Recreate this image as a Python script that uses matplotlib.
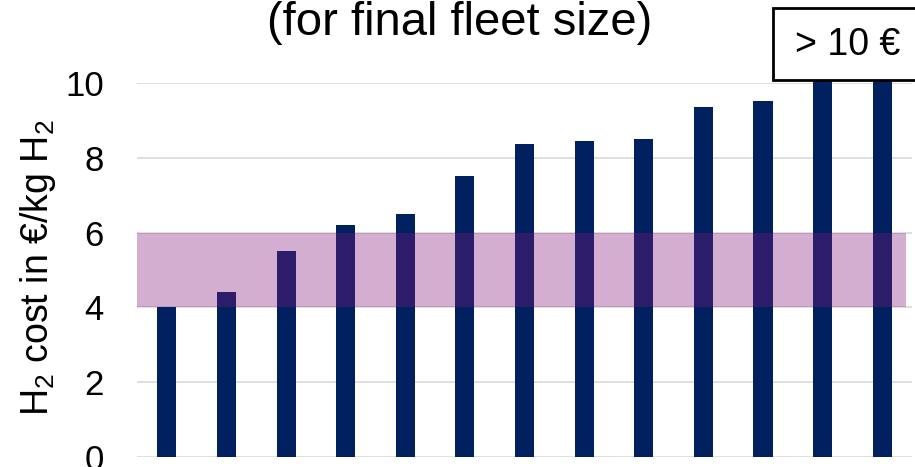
import matplotlib
matplotlib.use("Agg")
import matplotlib.pyplot as plt
from matplotlib.patches import Rectangle

plt.rcParams["font.family"] = ["Liberation Sans", "DejaVu Sans"]
plt.rcParams["mathtext.fontset"] = "custom"
plt.rcParams["mathtext.rm"] = "Liberation Sans"
plt.rcParams["mathtext.it"] = "Liberation Sans"

# cost per station / scenario (last two are above 10 and run into the box)
costs = [4.0, 4.4, 5.5, 6.2, 6.5, 7.5, 8.37, 8.45, 8.5, 9.36, 9.52, 10.5, 10.5]
band_low, band_high = 4, 6
yticks = [0, 2, 4, 6, 8, 10]

W, H = 915, 467
fig = plt.figure(figsize=(W/100, H/100), dpi=100)
ax = fig.add_axes([137/W, 10/H, 775/W, 374/H])

x = range(len(costs))
ax.bar(x, costs, width=0.32, color="#002060", zorder=2, clip_on=False)
ax.axhspan(band_low, band_high, xmin=0, xmax=(906-137)/775, color="#82177D", alpha=0.35, lw=0, zorder=3)

ax.set_xlim(-0.5, len(costs) - 0.5)
ax.set_ylim(0, 10)
ax.set_yticks(yticks)
ax.set_xticks([])
ax.tick_params(axis="y", length=0, pad=24, labelsize=25)
ax.yaxis.grid(True, color="#d9d9d9", lw=1.2, zorder=0)
for s in ax.spines.values():
    s.set_visible(False)

fig.text(38/W, 1 - 268/H, "H$_2$ cost in €/kg H$_2$", rotation=90,
         ha="center", va="center", fontsize=27)

fig.text(460/W, 1 - 35/H, "(for final fleet size)", ha="center", va="baseline", fontsize=34)

# box on the top right
box = Rectangle((773/W, 1 - 80/H), 0.2, 72/H, transform=fig.transFigure,
                facecolor="white", edgecolor="black", lw=2, zorder=10)
fig.patches.append(box)
fig.text(795/W, 1 - 55/H, "> 10 €", ha="left", va="baseline", fontsize=27, zorder=11)

fig.savefig("out.png", dpi=100)
